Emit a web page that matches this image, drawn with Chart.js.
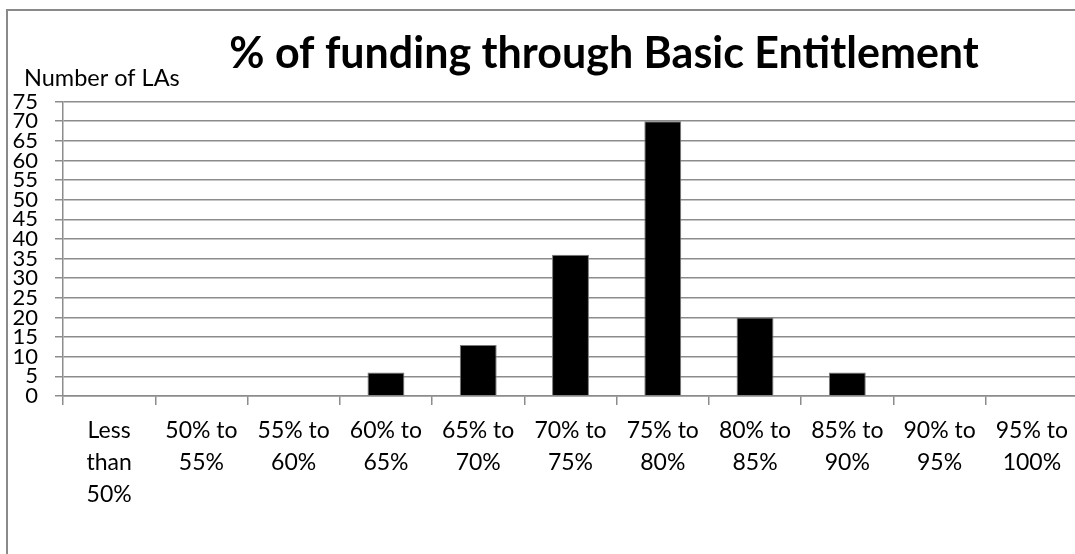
<!DOCTYPE html>
<html>
<head>
<meta charset="utf-8">
<script src="https://cdn.jsdelivr.net/npm/chart.js@4"></script>
<style>
  html, body { margin: 0; padding: 0; background: #fff; overflow: hidden; width: 1075px; height: 554px; }
  #frame { position: absolute; left: 6px; top: 9px; width: 1192px; height: 560px; border: 2px solid #8a8a8a; background: #fff; }
  canvas { display: block; }
</style>
</head>
<body>
<div id="frame"><canvas id="c" width="1192" height="560"></canvas></div>
<script>
const categories = [
  ["Less", "than", "50%"],
  ["50% to", "55%"],
  ["55% to", "60%"],
  ["60% to", "65%"],
  ["65% to", "70%"],
  ["70% to", "75%"],
  ["75% to", "80%"],
  ["80% to", "85%"],
  ["85% to", "90%"],
  ["90% to", "95%"],
  ["95% to", "100%"]
];
const counts = [0, 0, 0, 6, 13, 36, 70, 20, 6, 0, 0];
const yMin = 0, yMax = 75, yStep = 5;
const titleText = "% of funding through Basic Entitlement";
const yAxisLabel = "Number of LAs";

const FONT = "Lato, 'Open Sans', sans-serif";
const GRID = '#8c8c8c';

const yLabelPlugin = {
  id: 'yLabel',
  afterDraw(chart) {
    const ctx = chart.ctx, a = chart.chartArea;
    ctx.save();
    ctx.font = "23.5px " + FONT;
    ctx.fillStyle = '#000';
    ctx.textAlign = 'left';
    ctx.textBaseline = 'alphabetic';
    ctx.fillText(yAxisLabel, a.left - 39, a.top - 16);
    ctx.restore();
  }
};

new Chart(document.getElementById('c'), {
  type: 'bar',
  data: {
    labels: categories,
    datasets: [{
      data: counts,
      backgroundColor: '#000',
      borderColor: '#7a7a7a',
      borderWidth: 1,
      categoryPercentage: 1.0,
      barPercentage: 0.4
    }]
  },
  options: {
    responsive: false,
    devicePixelRatio: 1,
    animation: false,
    layout: { padding: { left: 0, right: 0, top: 0, bottom: 50 } },
    plugins: {
      legend: { display: false },
      tooltip: { enabled: false },
      title: {
        display: true,
        text: titleText,
        color: '#000',
        font: { family: FONT, size: 43, weight: 'bold', lineHeight: 1.2 },
        padding: { top: 17, bottom: 22 }
      }
    },
    scales: {
      x: {
        offset: true,
        grid: { display: true, drawOnChartArea: false, drawTicks: true, tickLength: 9, color: GRID, lineWidth: 1.5, offset: true },
        border: { display: true, color: GRID, width: 1.5 },
        ticks: { color: '#000', font: { family: FONT, size: 23, lineHeight: 32 / 23 }, padding: 10, maxRotation: 0, autoSkip: false }
      },
      y: {
        min: yMin, max: yMax,
        grid: { color: GRID, lineWidth: 1.5, tickLength: 8, drawTicks: true },
        border: { display: true, color: GRID, width: 1.5 },
        ticks: { stepSize: yStep, autoSkip: false, color: '#000', font: { family: FONT, size: 22, lineHeight: 1.0 }, padding: 17 },
        afterFit(scale) { scale.width = 55; }
      },
      yPad: {
        type: 'linear',
        position: 'right',
        display: true,
        grid: { display: false, drawTicks: false },
        border: { display: false },
        ticks: { display: false },
        afterFit(scale) { scale.width = 122; }
      }
    }
  },
  plugins: [yLabelPlugin]
});
</script>
</body>
</html>
